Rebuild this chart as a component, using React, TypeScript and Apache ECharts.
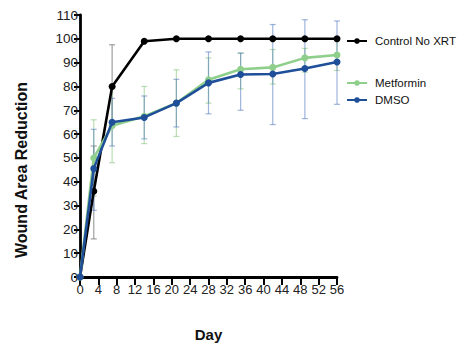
import React, { useEffect, useRef } from "react";
import * as echarts from "echarts";

const days = [0, 3, 7, 14, 21, 28, 35, 42, 49, 56];
const control = [0, 36, 80, 99, 100, 100, 100, 100, 100, 100];
const controlLow = [0, 16, 63, 99, 100, 100, 100, 100, 100, 100];
const controlHigh = [0, 55, 97.5, 99, 100, 100, 100, 100, 100, 100];
const metformin = [0, 50, 63.5, 67.5, 73, 82.8, 87.2, 88, 92, 93.2];
const metLow = [0, 34, 48, 56, 59, 73, 79, 81, 86, 86.7];
const metHigh = [0, 66, 79, 80, 87, 92, 94, 95.5, 96, 99];
const dmso = [0, 45.5, 65, 67, 73, 81.5, 85, 85.2, 87.5, 90.3];
const dmsoLow = [0, 28, 55, 58, 63, 68.5, 70, 64, 66.5, 72.5];
const dmsoHigh = [0, 62, 75, 76, 83, 94.5, 94, 106, 108, 107.5];

const yTitle = "Wound Area Reduction";
const xTitle = "Day";

const SANS = "'Liberation Sans', Arial, sans-serif";

function errSeries(name: string, low: number[], high: number[], color: string) {
  return {
    type: "custom",
    name: name + "-err",
    z: 1,
    silent: true,
    data: days.map((d, i) => [d, low[i], high[i]]),
    encode: { x: 0, y: [1, 2] },
    renderItem: (params: any, api: any) => {
      const x = api.value(0);
      const lo = api.coord([x, api.value(1)]);
      const hi = api.coord([x, api.value(2)]);
      const w = 3;
      const style = { stroke: color, lineWidth: 1.2 };
      return {
        type: "group",
        children: [
          { type: "line", shape: { x1: lo[0], y1: lo[1], x2: hi[0], y2: hi[1] }, style },
          { type: "line", shape: { x1: lo[0] - w, y1: lo[1], x2: lo[0] + w, y2: lo[1] }, style },
          { type: "line", shape: { x1: hi[0] - w, y1: hi[1], x2: hi[0] + w, y2: hi[1] }, style },
        ],
      };
    },
  };
}

function lineSeries(name: string, vals: number[], color: string, z: number) {
  return {
    type: "line",
    name,
    z,
    data: days.map((d, i) => [d, vals[i]]),
    symbol: "circle",
    symbolSize: 7,
    lineStyle: { color, width: 2.6 },
    itemStyle: { color },
  };
}

const legendText = { fontFamily: SANS, fontSize: 11.5, color: "#111", padding: [0, 0, 0, 3] };

export default function App() {
  const ref = useRef<HTMLDivElement>(null);
  useEffect(() => {
    document.body.style.margin = "0";
    const chart = echarts.init(ref.current!, null, { renderer: "svg" });
    chart.setOption({
      animation: false,
      grid: { left: 80, right: 128, top: 15, bottom: 58, containLabel: false },
      legend: [
        {
          data: ["Control No XRT"],
          left: 346,
          top: 35,
          orient: "vertical",
          itemWidth: 20,
          itemHeight: 7,
          itemGap: 4,
          padding: 0,
          textStyle: legendText,
        },
        {
          data: ["Metformin", "DMSO"],
          left: 346,
          top: 77,
          orient: "vertical",
          itemWidth: 20,
          itemHeight: 7,
          itemGap: 5,
          padding: 0,
          textStyle: legendText,
        },
      ],
      graphic: [
        {
          type: "text",
          x: 21,
          y: 170,
          rotation: Math.PI / 2,
          style: {
            text: yTitle,
            fontFamily: SANS,
            fontWeight: "bold",
            fontSize: 16,
            fill: "#111",
            align: "center",
            verticalAlign: "middle",
          },
        },
      ],
      xAxis: {
        type: "value",
        min: 0,
        max: 56,
        interval: 4,
        name: xTitle,
        nameLocation: "middle",
        nameGap: 50,
        nameTextStyle: { fontFamily: SANS, fontWeight: "bold", fontSize: 15, color: "#111" },
        axisLine: { lineStyle: { color: "#000", width: 2.8 } },
        axisTick: { lineStyle: { color: "#000", width: 2 }, length: 8 },
        axisLabel: { fontFamily: SANS, fontSize: 13, color: "#222", margin: 6 },
        splitLine: { show: false },
      },
      yAxis: {
        type: "value",
        min: 0,
        max: 110,
        interval: 10,
        axisLine: { show: true, lineStyle: { color: "#000", width: 2.8 } },
        axisTick: { show: true, lineStyle: { color: "#000", width: 2 }, length: 6 },
        axisLabel: { fontFamily: SANS, fontSize: 13.5, color: "#222", margin: 2 },
        splitLine: { show: false },
      },
      series: [
        errSeries("Control No XRT", controlLow, controlHigh, "rgba(120,120,120,0.7)"),
        errSeries("Metformin", metLow, metHigh, "rgba(140,200,130,0.6)"),
        errSeries("DMSO", dmsoLow, dmsoHigh, "rgba(80,120,190,0.55)"),
        lineSeries("Control No XRT", control, "#000000", 3),
        lineSeries("Metformin", metformin, "#8fcf8c", 4),
        lineSeries("DMSO", dmso, "#1f4f99", 5),
      ],
    });
    return () => chart.dispose();
  }, []);
  return <div ref={ref} style={{ width: 465, height: 347 }} />;
}
